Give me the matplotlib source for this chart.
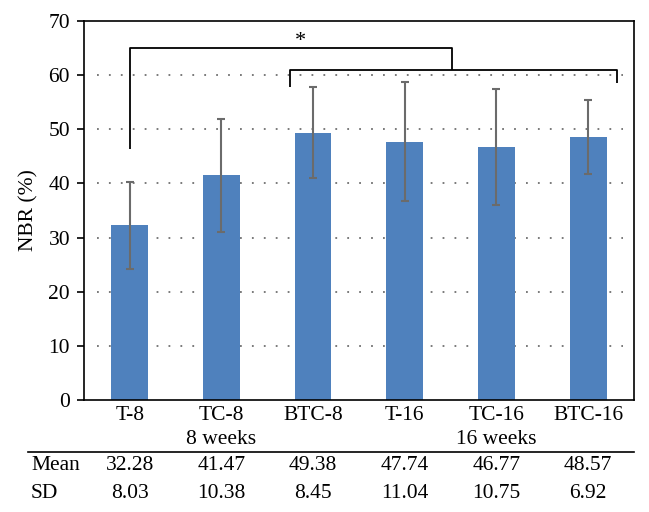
import matplotlib
matplotlib.use("Agg")
import matplotlib.pyplot as plt
import matplotlib.transforms as mtransforms
from matplotlib.lines import Line2D

categories = ["T-8", "TC-8", "BTC-8", "T-16", "TC-16", "BTC-16"]
means = [32.28, 41.47, 49.38, 47.74, 46.77, 48.57]
sds = [8.03, 10.38, 8.45, 11.04, 10.75, 6.92]
group_labels = ["8 weeks", "16 weeks"]
group_positions = [1, 4]
yticks = [0, 10, 20, 30, 40, 50, 60, 70]

plt.rcParams['font.family'] = ['Liberation Serif', 'DejaVu Serif']
FS = 15.5

fig = plt.figure(figsize=(6.49, 5.12), dpi=100)
ax = fig.add_axes([84/649, 1-400/512, 550/649, 379/512])

x = list(range(len(categories)))
ax.bar(x, means, width=0.4, color='#4F81BD', zorder=2)
ax.errorbar(x, means, yerr=sds, fmt='none', ecolor='#6b6b6b', elinewidth=1.5,
            capsize=3, capthick=1.5, zorder=3)

ax.set_xlim(-0.5, 5.5)
ax.set_ylim(0, 70)
ax.set_yticks(yticks)
ax.set_yticklabels([str(v) for v in yticks], fontsize=FS)
ax.tick_params(axis='y', direction='out', length=5, width=1.2, pad=5)
ax.set_xticks(x)
ax.set_xticklabels(categories, fontsize=FS)
ax.tick_params(axis='x', length=0, pad=4)
ax.set_ylabel("NBR (%)", fontsize=FS, labelpad=7)
for s in ax.spines.values():
    s.set_linewidth(1.2)
    s.set_color('black')

for v in yticks[1:-1]:
    ax.axhline(v, xmin=0.024, xmax=0.98, color='#707070', lw=1.3,
               linestyle=(0, (1, 5.6)), zorder=1)

# significance brackets
bk = dict(color='black', lw=1.3, zorder=4, solid_capstyle='butt')
ax.plot([0, 0, 3.51, 3.51], [46.3, 65.1, 65.1, 60.9], **bk)
ax.plot([1.745, 1.745, 5.31, 5.31], [57.8, 60.9, 60.9, 58.6], **bk)
ax.text(1.86, 66.2, "*", fontsize=16, ha='center', va='center')

# group labels and table
bt = mtransforms.blended_transform_factory(ax.transData, fig.transFigure)
for gp, gl in zip(group_positions, group_labels):
    ax.text(gp, 1-439/512, gl, transform=bt, ha='center', va='center', fontsize=FS)

fig.add_artist(Line2D([28/649, 634/649], [1-452/512, 1-452/512],
                      color='black', lw=1.2, transform=fig.transFigure))

fig.text(31/649, 1-466/512, "Mean", ha='left', va='center', fontsize=FS)
fig.text(31/649, 1-493/512, "SD", ha='left', va='center', fontsize=FS)
for xi, m, s in zip(x, means, sds):
    ax.text(xi, 1-466/512, f"{m:.2f}", transform=bt, ha='center', va='center', fontsize=FS)
    ax.text(xi, 1-493/512, f"{s:.2f}", transform=bt, ha='center', va='center', fontsize=FS)

fig.savefig("out.png", dpi=100)
